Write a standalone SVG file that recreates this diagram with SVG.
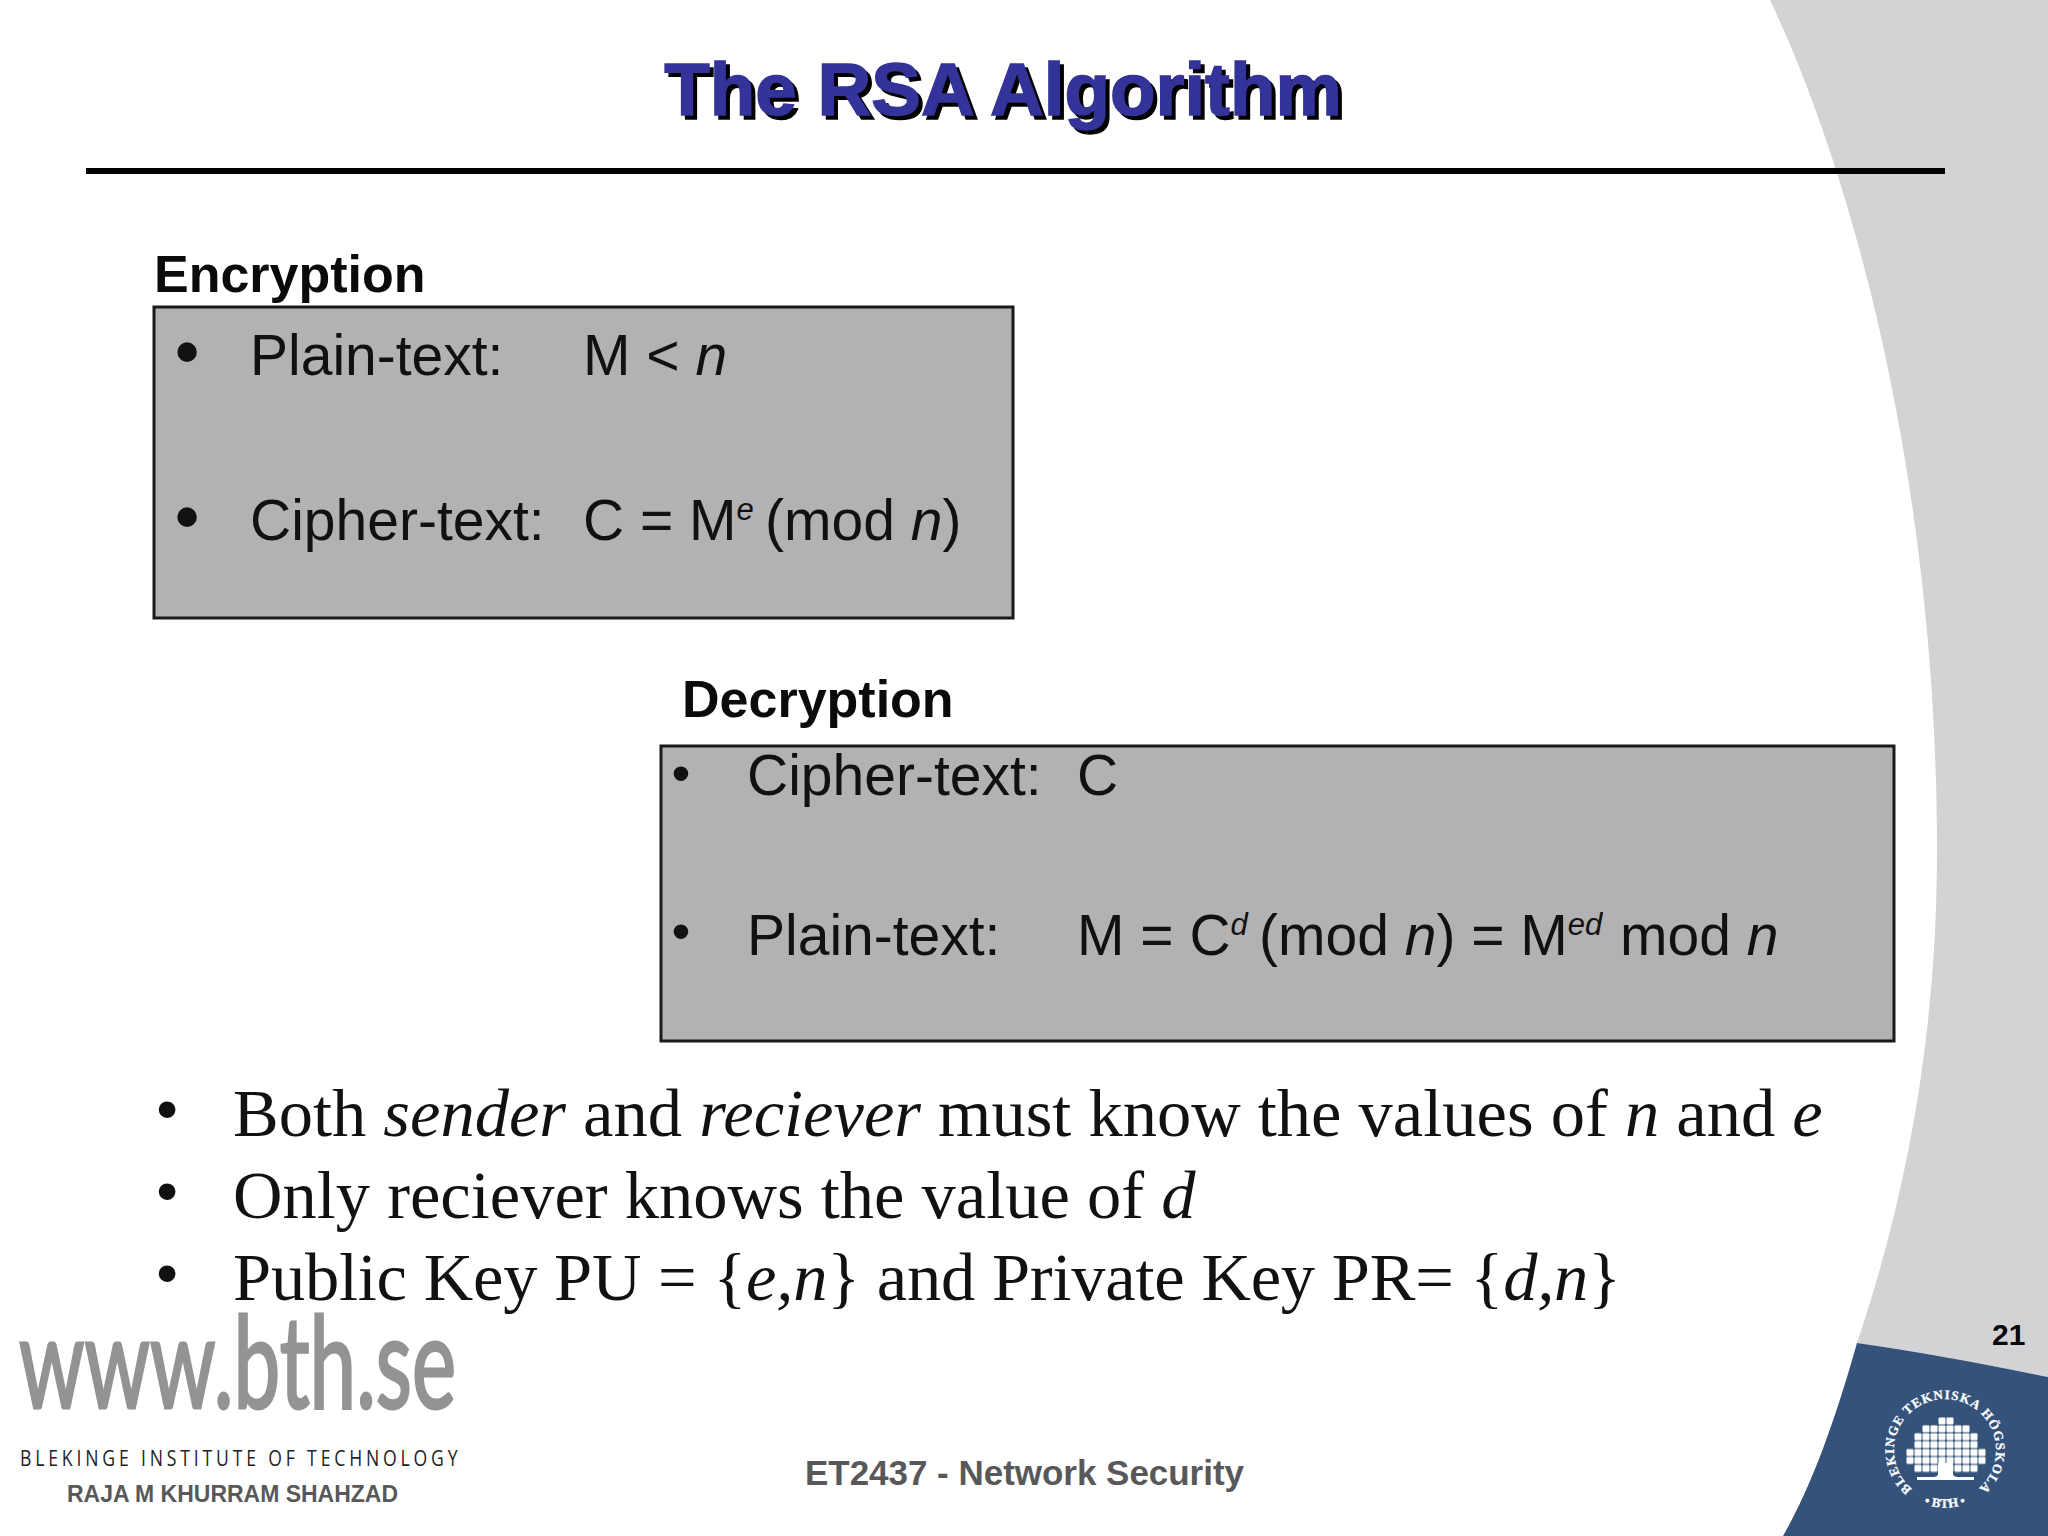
<svg xmlns="http://www.w3.org/2000/svg" width="2048" height="1536" viewBox="0 0 2048 1536">
<defs>
<style>
.s{font-family:"Liberation Sans",Arial,sans-serif}
.t{font-family:"Liberation Serif","Times New Roman",serif;font-size:68.5px;fill:#111}
.b{font-size:57px;fill:#111}
.h{font-size:52px;font-weight:bold;fill:#0a0a0a}
.box{fill:#b2b2b4;stroke:#1a1a1a;stroke-width:3}
.ti{font-size:74.5px;font-weight:bold;text-anchor:middle;stroke-width:1.5}
.lg{font-family:"Liberation Serif",serif;font-weight:bold;fill:#fff;stroke:#fff;stroke-width:.3;font-size:13px}
.i{font-style:italic}
</style>
<pattern id="cells" patternUnits="userSpaceOnUse" x="1946" y="1417" width="8" height="7.9"><rect x="0.5" y="0.5" width="7" height="6.9" rx="1" fill="#fff"/></pattern>
<path id="arcTop" d="M1912 1489A51 51 0 1 1 1978 1489"/>
<path id="arcBot" d="M1908 1495A60 60 0 0 0 1982 1495"/>
</defs>
<rect width="2048" height="1536" fill="#fff"/>
<g id="background">
<path d="M1770 0C1860 190 1937 500 1937 850C1937 1040 1905 1200 1857 1343C1920 1352 1990 1365 2048 1377V0Z" fill="#d3d3d6"/>
<path d="M1857 1343C1920 1352 1990 1365 2048 1377V1536H1783C1815 1480 1838 1410 1857 1343Z" fill="#34527a"/>
</g>
<g id="title">
<text class="s ti" x="1007" y="119" fill="#000" stroke="#000">The RSA Algorithm</text>
<text class="s ti" x="1003" y="115" fill="#333399" stroke="#333399">The RSA Algorithm</text>
<rect x="86" y="168" width="1859" height="6" fill="#000"/>
</g>
<g id="encryption">
<text class="s h" x="154" y="292">Encryption</text>
<rect class="box" x="154" y="307" width="859" height="311"/>
<text class="s" font-size="72" fill="#111" x="187" y="376" text-anchor="middle">•</text>
<text class="s b" x="250" y="375">Plain-text:</text>
<text class="s b" x="583" y="375">M &lt; <tspan class="i">n</tspan></text>
<text class="s" font-size="72" fill="#111" x="187" y="541" text-anchor="middle">•</text>
<text class="s b" x="250" y="540">Cipher-text:</text>
<text class="s b" x="583" y="540">C = M<tspan class="i" font-size="31" dy="-20">e</tspan><tspan x="765" dy="20">(mod <tspan class="i">n</tspan>)</tspan></text>
</g>
<g id="decryption">
<text class="s h" x="682" y="717">Decryption</text>
<rect class="box" x="661" y="746" width="1233" height="295"/>
<text class="s" font-size="54" fill="#111" x="681" y="792" text-anchor="middle">•</text>
<text class="s b" x="747" y="795">Cipher-text:</text>
<text class="s b" x="1077" y="795">C</text>
<text class="s" font-size="54" fill="#111" x="681" y="950" text-anchor="middle">•</text>
<text class="s b" x="747" y="955">Plain-text:</text>
<text class="s b" x="1077" y="955">M = C<tspan class="i" font-size="31" dy="-20">d</tspan><tspan x="1259" dy="20">(mod <tspan class="i">n</tspan>) = M</tspan><tspan class="i" font-size="31" dy="-20">ed</tspan><tspan x="1620" dy="20">mod <tspan class="i">n</tspan></tspan></text>
</g>
<g id="bullets">
<text class="s" font-size="62" fill="#111" x="167" y="1130" text-anchor="middle">•</text>
<text class="t" x="233" y="1136">Both <tspan class="i">sender</tspan> and <tspan class="i">reciever</tspan> must know the values of <tspan class="i">n</tspan> and <tspan class="i">e</tspan></text>
<text class="s" font-size="62" fill="#111" x="167" y="1212" text-anchor="middle">•</text>
<text class="t" x="233" y="1218">Only reciever knows the value of <tspan class="i">d</tspan></text>
<text class="s" font-size="62" fill="#111" x="167" y="1294" text-anchor="middle">•</text>
<text class="t" x="233" y="1300" textLength="1388">Public Key PU = {<tspan class="i">e,n</tspan>} and Private Key PR= {<tspan class="i">d,n</tspan>}</text>
</g>
<g id="footer">
<text font-family="Lato,sans-serif" font-size="128" fill="#939395" stroke="#939395" stroke-width="3" x="19" y="1408" textLength="437" lengthAdjust="spacingAndGlyphs">www.bth.se</text>
<text font-family="'Open Sans',sans-serif" font-size="22" fill="#222" transform="translate(20 1466) scale(.8 1)" textLength="547">BLEKINGE INSTITUTE OF TECHNOLOGY</text>
<text class="s" font-size="24" font-weight="bold" fill="#58585a" x="67" y="1502" textLength="331" lengthAdjust="spacingAndGlyphs">RAJA M KHURRAM SHAHZAD</text>
<text class="s" font-size="35" font-weight="bold" fill="#58585a" x="805" y="1485" textLength="439" lengthAdjust="spacingAndGlyphs">ET2437 - Network Security</text>
<text class="s" font-size="30" font-weight="bold" fill="#0a0a0a" x="1992" y="1345">21</text>
</g>
<g id="logo">
<rect x="1938" y="1417" width="16" height="7.9" fill="url(#cells)"/>
<rect x="1922" y="1424.9" width="48" height="7.9" fill="url(#cells)"/>
<rect x="1914" y="1432.8" width="64" height="15.8" fill="url(#cells)"/>
<rect x="1906" y="1448.6" width="80" height="15.8" fill="url(#cells)"/>
<rect x="1914" y="1464.4" width="64" height="8" fill="url(#cells)"/>
<path d="M1938 1463H1953V1474C1953 1476 1955 1477 1958 1477H1974V1480H1917V1477H1933C1936 1477 1938 1476 1938 1474Z" fill="#fff"/>
<text class="lg"><textPath href="#arcTop" startOffset="0" textLength="247">BLEKINGE TEKNISKA HÖGSKOLA</textPath></text>
<text class="lg"><textPath href="#arcBot" startOffset="50%" text-anchor="middle">• BTH •</textPath></text>
</g>
</svg>
